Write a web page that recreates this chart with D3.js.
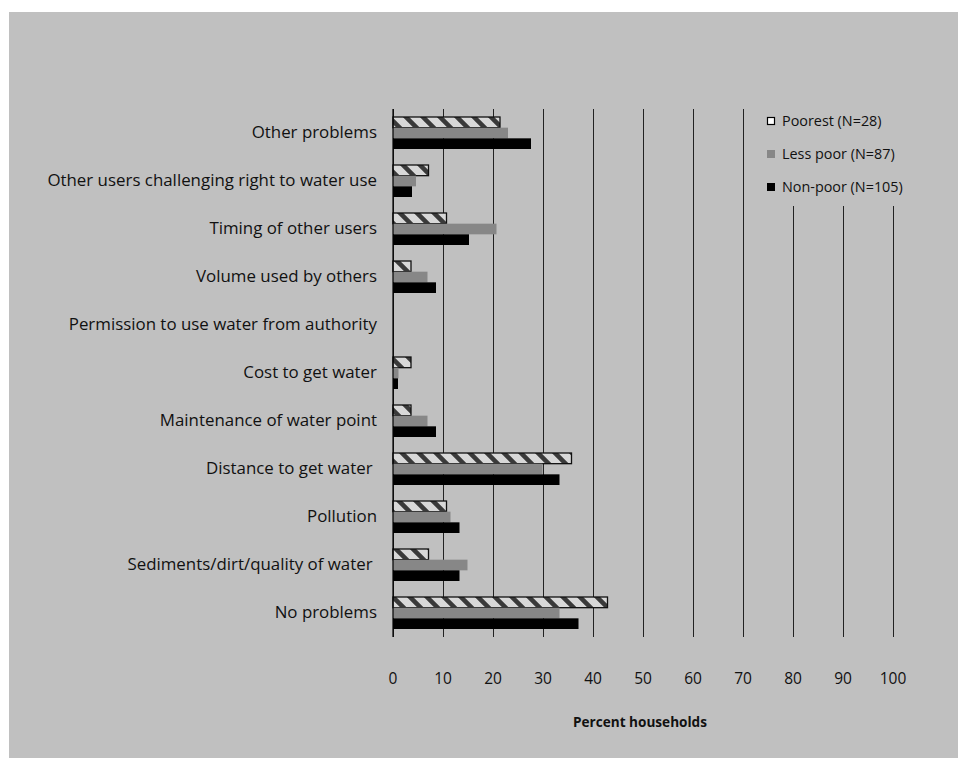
<!DOCTYPE html>
<html><head><meta charset="utf-8">
<script src="https://cdn.jsdelivr.net/npm/d3@7"></script>
<style>body{margin:0;background:#fff;} text{font-family:"Open Sans",Lato,sans-serif;}</style>
</head><body><svg id="c" width="958" height="758"></svg>
<script>
const categories = ["Other problems","Other users challenging right to water use","Timing of other users","Volume used by others","Permission to use water from authority","Cost to get water","Maintenance of water point","Distance to get water ","Pollution","Sediments/dirt/quality of water ","No problems"];
const seriesNames = ["Poorest (N=28)","Less poor (N=87)","Non-poor (N=105)"];
const poorest = [21.4,7.1,10.7,3.6,0,3.6,3.6,35.7,10.7,7.1,42.9];
const lessPoor = [23.0,4.6,20.7,6.9,0,1.1,6.9,29.9,11.5,14.9,33.3];
const nonPoor = [27.6,3.8,15.2,8.6,0,1.0,8.6,33.3,13.3,13.3,37.1];
const xTicks = [0,10,20,30,40,50,60,70,80,90,100];
const axisTitle = "Percent households";

const svg = d3.select("#c");
svg.append("rect").attr("x",9).attr("y",12).attr("width",949).attr("height",746).attr("fill","#c0c0c0");
const defs = svg.append("defs");
const pat = defs.append("pattern").attr("id","hatch").attr("patternUnits","userSpaceOnUse").attr("width",17).attr("height",17);
pat.append("rect").attr("width",17).attr("height",17).attr("fill","#d8d8d8");
pat.append("path").attr("d","M-4,-4 L21,21 M-4,13 L4,21 M13,-4 L21,4").attr("stroke","#3a3a3a").attr("stroke-width",4.5);

const x = d3.scaleLinear().domain([0,100]).range([393,893]);
const y = d3.scaleBand().domain(categories).range([109,637]).paddingInner(0).paddingOuter(0);
const inner = d3.scaleBand().domain(seriesNames).range([8,40]);

// gridlines
const xAxis = d3.axisBottom(x).tickValues(xTicks).tickSize(-(637-109)).tickPadding(0).tickFormat("");
const gx = svg.append("g").attr("transform","translate(0,637)").call(xAxis);
gx.select(".domain").remove();
gx.selectAll(".tick line").attr("stroke","#222").attr("stroke-width",1);

// tick labels
svg.append("g").selectAll("text").data(xTicks).join("text")
  .attr("x",d=>x(d)).attr("y",684).attr("text-anchor","middle")
  .attr("font-size",15.5).attr("fill","#111").text(d=>d);

const t = svg.append("text").attr("x",640).attr("y",727).attr("text-anchor","middle")
  .attr("font-size",12).attr("font-weight","bold").attr("fill","#111").text(axisTitle);
t.attr("font-size", 12*134/t.node().getComputedTextLength());

// category labels
const labs = svg.append("g").selectAll("text").data(categories).join("text")
  .attr("x",377).attr("y",d=>y(d)+y.bandwidth()/2+5).attr("text-anchor","end")
  .attr("font-size",15).attr("fill","#111").style("white-space","pre").text(d=>d);
const longest = d3.max(labs.nodes(), n=>n.getComputedTextLength());
labs.attr("font-size", Math.min(17, 15*330/longest));

// bars
const series = [
  {name:seriesNames[0], vals:poorest, fill:"url(#hatch)", stroke:"#111", sw:1.3},
  {name:seriesNames[1], vals:lessPoor, fill:"#878787", stroke:"none", sw:0},
  {name:seriesNames[2], vals:nonPoor, fill:"#000", stroke:"none", sw:0}
];
series.forEach(s=>{
  svg.append("g").selectAll("rect").data(categories.map((c,i)=>({c,v:s.vals[i]})).filter(d=>d.v>0)).join("rect")
    .attr("x",x(0)).attr("y",d=>y(d.c)+inner(s.name)).attr("width",d=>x(d.v)-x(0))
    .attr("height",inner.bandwidth()).attr("fill",s.fill).attr("stroke",s.stroke).attr("stroke-width",s.sw);
});

// axis line at 0
svg.append("line").attr("x1",x(0)).attr("x2",x(0)).attr("y1",109).attr("y2",637).attr("stroke","#000").attr("stroke-width",1.2);

// legend
svg.append("rect").attr("x",750).attr("y",108).attr("width",165).attr("height",98).attr("fill","#c0c0c0");
const leg = svg.append("g");
const legY = [122,155,188];
const legTexts = [];
series.forEach((s,i)=>{
  const g = leg.append("g").attr("transform",`translate(767,${legY[i]})`);
  if(i===0){
    g.append("rect").attr("x",0.5).attr("y",-4.5).attr("width",7).attr("height",7).attr("fill","#fff").attr("stroke","#000").attr("stroke-width",1.2);
  } else {
    g.append("rect").attr("x",0).attr("y",-5).attr("width",8).attr("height",8).attr("fill",s.fill);
  }
  legTexts.push(g.append("text").attr("x",15).attr("y",4).attr("font-size",12).attr("fill","#111").text(s.name));
});
const lw = legTexts[2].node().getComputedTextLength();
legTexts.forEach(tt=>tt.attr("font-size", 12*121/lw));
</script></body></html>
